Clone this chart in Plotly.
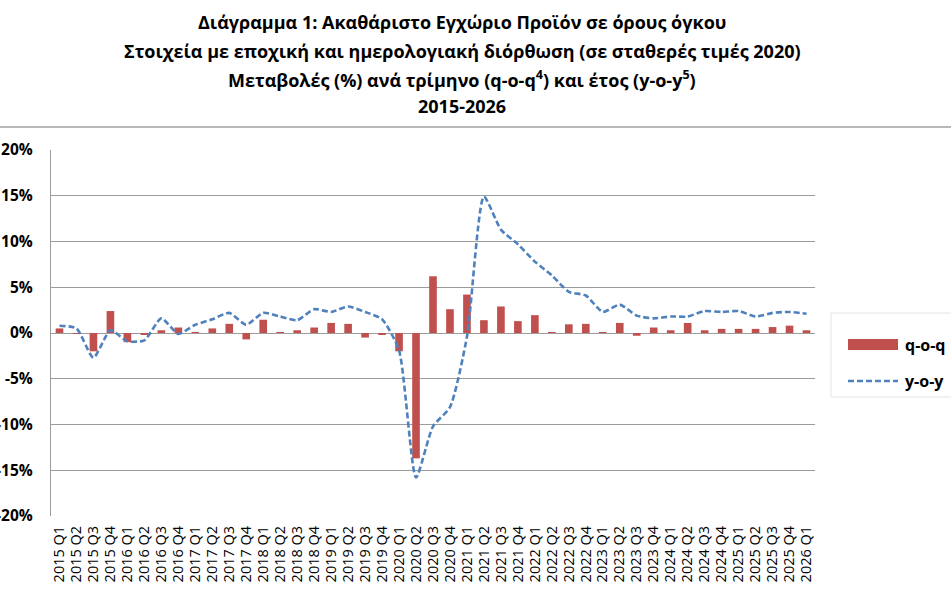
import plotly.graph_objects as go

quarters = ["2015 Q1","2015 Q2","2015 Q3","2015 Q4","2016 Q1","2016 Q2","2016 Q3","2016 Q4",
            "2017 Q1","2017 Q2","2017 Q3","2017 Q4","2018 Q1","2018 Q2","2018 Q3","2018 Q4",
            "2019 Q1","2019 Q2","2019 Q3","2019 Q4","2020 Q1","2020 Q2","2020 Q3","2020 Q4",
            "2021 Q1","2021 Q2","2021 Q3","2021 Q4","2022 Q1","2022 Q2","2022 Q3","2022 Q4",
            "2023 Q1","2023 Q2","2023 Q3","2023 Q4","2024 Q1","2024 Q2","2024 Q3","2024 Q4",
            "2025 Q1","2025 Q2","2025 Q3","2025 Q4","2026 Q1"]

qoq = [0.5, -0.1, -2.0, 2.4, -1.0, -0.2, 0.3, 0.6,
       0.1, 0.5, 1.0, -0.7, 1.45, 0.05, 0.3, 0.6,
       1.1, 1.0, -0.5, -0.15, -2.0, -13.7, 6.2, 2.6,
       4.2, 1.4, 2.9, 1.3, 1.95, 0.05, 0.95, 1.0,
       0.05, 1.1, -0.3, 0.6, 0.3, 1.1, 0.3, 0.45,
       0.45, 0.45, 0.65, 0.8, 0.3]

yoy = [0.8, 0.5, -2.7, 0.3, -0.9, -0.8, 1.6, -0.1,
       0.9, 1.5, 2.2, 0.9, 2.2, 1.8, 1.4, 2.6,
       2.3, 2.9, 2.3, 1.5, -1.9, -15.8, -10.2, -8.1,
       -0.4, 14.9, 11.3, 9.7, 7.8, 6.3, 4.5, 4.1,
       2.3, 3.1, 1.9, 1.6, 1.8, 1.8, 2.4, 2.3,
       2.4, 1.8, 2.2, 2.3, 2.1]

y_tickvals = [-20, -15, -10, -5, 0, 5, 10, 15, 20]
y_ticktext = ["-20%", "-15%", "-10%", "-5%", "0%", "5%", "10%", "15%", "20%"]

title_lines = [
    "Διάγραμμα 1: Ακαθάριστο Εγχώριο Προϊόν σε όρους όγκου",
    "Στοιχεία με εποχική και ημερολογιακή διόρθωση (σε σταθερές τιμές 2020)",
    "Μεταβολές (%) ανά τρίμηνο (q-o-q<sup>4</sup>) και έτος (y-o-y<sup>5</sup>)",
    "2015-2026",
]
legend_names = ["q-o-q", "y-o-y"]

RED = "#C0504D"
BLUE = "#4F81BD"
GRID = "#9c9c9c"
FONT = "Open Sans"

W, H = 951, 595
L, R, T, B = 51, 136, 150, 79
pw, ph = W - L - R, H - T - B

def px_x(x):
    return (x - L) / pw

def px_y(y):
    return (H - B - y) / ph

fig = go.Figure()
fig.add_trace(go.Bar(x=quarters, y=qoq, name=legend_names[0], marker_color=RED,
                     marker_line_width=0, showlegend=False))
fig.add_trace(go.Scatter(x=quarters, y=yoy, name=legend_names[1], mode="lines",
                         line=dict(color=BLUE, width=2.6, dash="6px,3px", shape="spline", smoothing=0.6),
                         showlegend=False))

n = len(quarters)
fig.update_layout(
    width=W, height=H,
    margin=dict(l=L, r=R, t=T, b=B, autoexpand=False),
    paper_bgcolor="white", plot_bgcolor="white",
    bargap=0.55,
    font=dict(family=FONT, color="black"),
    xaxis=dict(type="category", range=[-0.5, n - 0.5], showgrid=False, zeroline=False,
               showline=False, ticks="", tickangle=-90, automargin=False,
               tickmode="array", tickvals=quarters, ticktext=quarters,
               ticklabelstandoff=6,
               tickfont=dict(family=FONT, size=14.5, color="black")),
    xaxis2=dict(overlaying="x", anchor="free", position=0.5, range=[-0.5, n - 0.5],
                tickvals=[k - 0.5 for k in range(n + 1)], ticks="outside", ticklen=5,
                tickcolor=GRID, tickwidth=1.3, showline=True, linecolor=GRID, linewidth=1.3,
                showticklabels=False, showgrid=False, zeroline=False),
    yaxis=dict(range=[-20, 20], tickvals=y_tickvals, ticktext=y_ticktext,
               showgrid=True, gridcolor=GRID, gridwidth=1.3, zeroline=False,
               showline=True, linecolor=GRID, linewidth=1.3, ticks="",
               ticklabelstandoff=14, automargin=False,
               tickfont=dict(family=FONT, size=15.5, color="black", weight="bold")),
)

# title lines
title_y = [22, 51, 79, 106]
for txt, yy in zip(title_lines, title_y):
    fig.add_annotation(text="<b>" + txt + "</b>", xref="paper", yref="paper",
                       x=px_x(462), y=px_y(yy), xanchor="center", yanchor="middle",
                       showarrow=False, font=dict(family=FONT, size=18, color="black"))

# frame line under title
fig.add_shape(type="line", xref="paper", yref="paper", x0=px_x(0), x1=px_x(W),
              y0=px_y(127), y1=px_y(127), line=dict(color="#a0a0a0", width=1.5))

# legend box
fig.add_shape(type="rect", xref="paper", yref="paper", x0=px_x(831), x1=px_x(W + 5),
              y0=px_y(313), y1=px_y(397), line=dict(color="#e4e4e4", width=1), fillcolor="rgba(0,0,0,0)")
fig.add_shape(type="rect", xref="paper", yref="paper", x0=px_x(848), x1=px_x(898),
              y0=px_y(339), y1=px_y(350), line=dict(width=0), fillcolor=RED)
fig.add_shape(type="line", xref="paper", yref="paper", x0=px_x(848), x1=px_x(898),
              y0=px_y(381), y1=px_y(381), line=dict(color=BLUE, width=2.6, dash="6px,3px"))
for name, yy in zip(legend_names, [345, 381]):
    fig.add_annotation(text="<b>" + name + "</b>", xref="paper", yref="paper",
                       x=px_x(903), y=px_y(yy), xanchor="left", yanchor="middle",
                       showarrow=False, font=dict(family=FONT, size=16, color="black"))

fig.write_html("out.html")
